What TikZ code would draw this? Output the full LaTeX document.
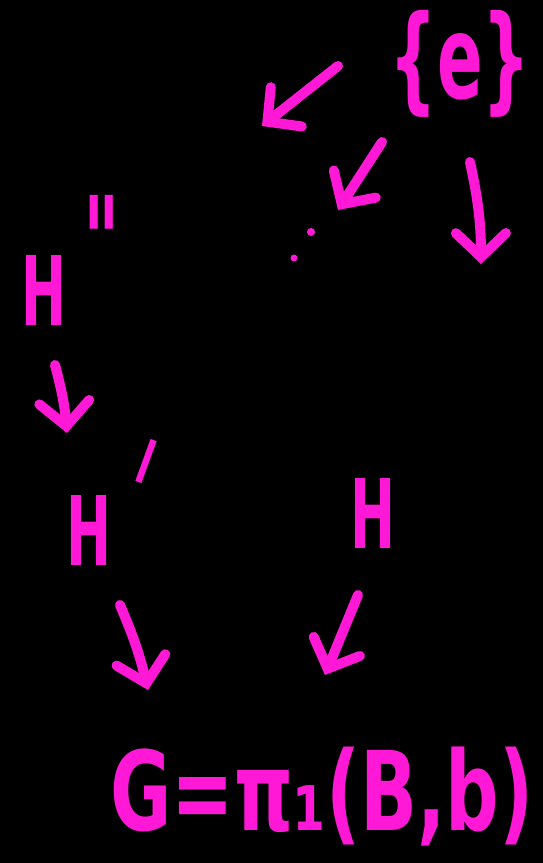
\documentclass[tikz,border=0pt]{standalone}
\usepackage{fontspec}
\usetikzlibrary{arrows.meta}
\newfontfamily\hfont[FakeStretch=0.56]{DejaVu Sans Bold}
\newfontfamily\efont[FakeStretch=0.58]{DejaVu Sans Bold}
\newfontfamily\gfont[FakeStretch=0.68]{DejaVu Sans Bold}
\newfontfamily\qfont[FakeStretch=0.6]{DejaVu Sans}
\definecolor{mag}{RGB}{255,25,215}
\begin{document}
\begin{tikzpicture}[x=1pt,y=-1pt,
  lbl/.style={text=mag, inner sep=0pt},
  hlbl/.style={lbl, font=\hfont\fontsize{96}{96}\selectfont, anchor=base},
  arr/.style={draw=mag, line width=10pt, line cap=round, line join=round,
    -{Straight Barb[length=24pt,width=50pt,line cap=round]}}]
\fill[black] (0,0) rectangle (543,863);
\useasboundingbox (0,0) rectangle (543,863);
% nodes
\node[lbl, font=\efont\fontsize{116}{116}\selectfont] (e) at (460,64) {\{e\}};
\node[hlbl] (H2) at (44,325) {H};
\node[lbl, font=\hfont\fontsize{125}{125}\selectfont, anchor=north] (H2p) at (102,195) {"};
\node[hlbl] (H1) at (89,565) {H};
\node[lbl, font=\qfont\fontsize{165}{165}\selectfont, rotate=-20] (H1p) at (145,465) {\raisebox{-78pt}[42pt][0pt]{ˈ}};
\node[hlbl] (H) at (373,548) {H};
\node[lbl, font=\gfont\fontsize{110}{110}\selectfont, anchor=base] (G) at (322,830) {G=π₁(B,b)};
\node[circle, fill=mag, inner sep=0pt, minimum size=8pt] (d1) at (311,232) {};
\node[circle, fill=mag, inner sep=0pt, minimum size=7pt] (d2) at (294,258) {};
% free ends
\coordinate (eL) at (338,66);
\coordinate (tL) at (262,126);
\coordinate (eM) at (382,142);
\coordinate (tM) at (338,210);
\coordinate (eR) at (470,162);
\coordinate (tR) at (481,264);
\coordinate (h2s) at (55,365);
\coordinate (h1t) at (67,433);
\coordinate (h1s) at (120,605);
\coordinate (gl) at (148,690);
\coordinate (hs) at (358,595);
\coordinate (gr) at (325,675);
% connectors
\draw[arr] (eL) -- (tL);
\draw[arr] (eM) -- (tM);
\draw[arr] (eR) to[bend left=6] (tR);
\draw[arr] (h2s) to[bend left=5] (h1t);
\draw[arr] (h1s) to[bend left=5] (gl);
\draw[arr] (hs) -- (gr);
\end{tikzpicture}
\end{document}
